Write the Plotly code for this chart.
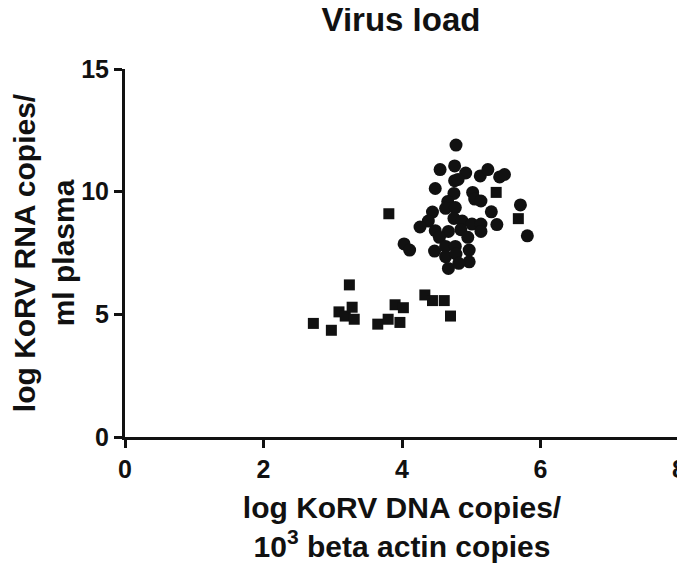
import plotly.graph_objects as go

# Circles (group 1)
circle_x = [4.78, 4.55, 4.76, 4.92, 5.13, 5.24, 5.41, 5.48, 4.76, 4.81, 4.48, 4.75,
            5.02, 5.05, 5.14, 4.66, 4.63, 4.77, 5.71, 5.29, 4.44, 4.38, 4.75, 4.87,
            5.01, 5.14, 5.37, 4.26, 4.48, 4.67, 4.85, 5.14, 5.81, 4.54, 4.95, 4.03,
            4.11, 4.47, 4.63, 4.77, 4.97, 4.63, 4.78, 4.97, 4.67, 4.82]
circle_y = [11.9, 10.9, 11.05, 10.76, 10.64, 10.9, 10.6, 10.7, 10.45, 10.5, 10.13, 9.93,
            9.97, 9.7, 9.62, 9.6, 9.32, 9.35, 9.46, 9.18, 9.17, 8.8, 8.91, 8.8,
            8.68, 8.68, 8.66, 8.56, 8.41, 8.38, 8.45, 8.38, 8.2, 8.14, 8.14, 7.87,
            7.62, 7.58, 7.77, 7.77, 7.62, 7.35, 7.46, 7.14, 6.87, 7.08]

# Squares (group 2)
square_x = [3.81, 5.36, 5.68, 3.24, 2.72, 2.98, 3.09, 3.18, 3.28, 3.31, 3.65, 3.80,
            3.90, 4.02, 3.97, 4.33, 4.44, 4.61, 4.70]
square_y = [9.1, 9.97, 8.9, 6.2, 4.63, 4.35, 5.1, 4.93, 5.29, 4.8, 4.6, 4.8,
            5.39, 5.27, 4.67, 5.79, 5.56, 5.56, 4.93]

x_ticks = [0, 2, 4, 6, 8]
y_ticks = [0, 5, 10, 15]

title_text = "Virus load"
x_title = "log KoRV DNA copies/<br>10<sup>3</sup> beta actin copies"
y_title = "log KoRV RNA copies/<br>ml plasma"

FONT = "Liberation Sans, Arial, sans-serif"
INK = "#111111"

fig = go.Figure()
fig.add_trace(go.Scatter(x=circle_x, y=circle_y, mode="markers",
                         marker=dict(symbol="circle", size=13, color=INK),
                         cliponaxis=False, showlegend=False))
fig.add_trace(go.Scatter(x=square_x, y=square_y, mode="markers",
                         marker=dict(symbol="square", size=11, color=INK),
                         cliponaxis=False, showlegend=False))

axis_common = dict(showgrid=False, zeroline=False, showline=True, linecolor=INK,
                   linewidth=3, ticks="outside", ticklen=8, tickwidth=3, tickcolor=INK,
                   ticklabeloverflow="allow", automargin=False,
                   tickfont=dict(family=FONT, size=25, color=INK, weight="bold"))

fig.update_layout(
    width=684, height=555,
    margin=dict(l=117, r=13, t=61, b=126),
    plot_bgcolor="white", paper_bgcolor="white",
    title=dict(text=title_text, x=0.5745, xanchor="center", y=1.0, yanchor="top",
               pad=dict(t=0, b=0),
               font=dict(family=FONT, size=33, color=INK, weight="bold")),
    xaxis=dict(range=[0, 8], tickvals=x_ticks,
               title=dict(text=x_title, standoff=15,
                          font=dict(family=FONT, size=30, color=INK, weight="bold")),
               **axis_common),
    yaxis=dict(range=[0, 15], tickvals=y_ticks,
               title=dict(text=y_title, standoff=14,
                          font=dict(family=FONT, size=30, color=INK, weight="bold")),
               **axis_common),
)

fig.write_html("out.html")
